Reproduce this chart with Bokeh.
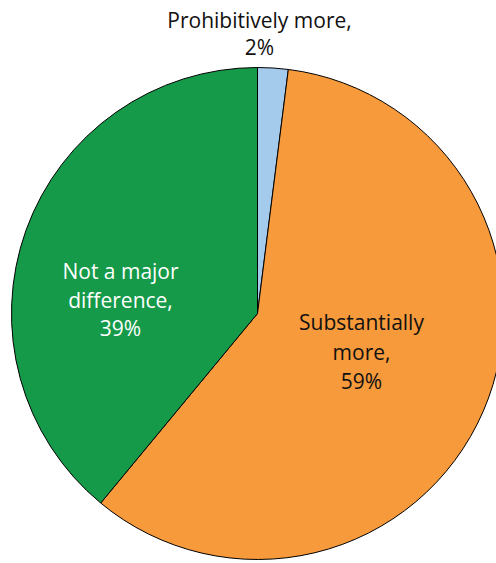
import math
from bokeh.plotting import figure
from bokeh.models import ColumnDataSource, Range1d
from bokeh.core.properties import value
from bokeh.embed import file_html
from bokeh.resources import INLINE

# ---- data ----
categories = ["Prohibitively more", "Substantially more", "Not a major difference"]
shares = [2, 59, 39]
colors = ["#A4CBEC", "#F79A3B", "#149A48"]
label_lines = [["Prohibitively more,", "2%"],
               ["Substantially", "more,", "59%"],
               ["Not a major", "difference,", "39%"]]
label_colors = ["#111111", "#111111", "#FFFFFF"]

# ---- layout ----
W, H = 496, 563
cx, cy, R = 257, 250, 246
label_anchor = [(259, 530), (361, 212), (120, 264)]   # centre of each label block
line_gap = [27, 29.5, 28.5]
font_px = "21px"

total = sum(shares)
starts, ends = [], []
a = math.pi / 2
for s in shares:
    starts.append(a)
    a -= 2 * math.pi * s / total
    ends.append(a)

src = ColumnDataSource(dict(start=starts, end=ends, color=colors, cat=categories))

p = figure(width=W, height=H, output_backend="svg", toolbar_location=None,
           x_range=Range1d(0, W), y_range=Range1d(0, H), min_border=0)
p.axis.visible = False
p.grid.visible = False
p.outline_line_color = None
p.background_fill_color = "white"

p.wedge(x=cx, y=cy, radius=R, start_angle="start", end_angle="end",
        direction="clock", fill_color="color", line_color="black",
        line_width=1, source=src)

tx, ty, tt, tc = [], [], [], []
for lines, (ax, ay), gap, col in zip(label_lines, label_anchor, line_gap, label_colors):
    n = len(lines)
    for i, ln in enumerate(lines):
        tx.append(ax)
        ty.append(ay + (n - 1) / 2 * gap - i * gap)
        tt.append(ln)
        tc.append(col)

tsrc = ColumnDataSource(dict(x=tx, y=ty, text=tt, color=tc))
p.text(x="x", y="y", text="text", text_color="color", source=tsrc,
       text_align="center", text_baseline="middle",
       text_font=value("Open Sans"), text_font_size=font_px)

open("out.html", "w").write(file_html(p, INLINE))
